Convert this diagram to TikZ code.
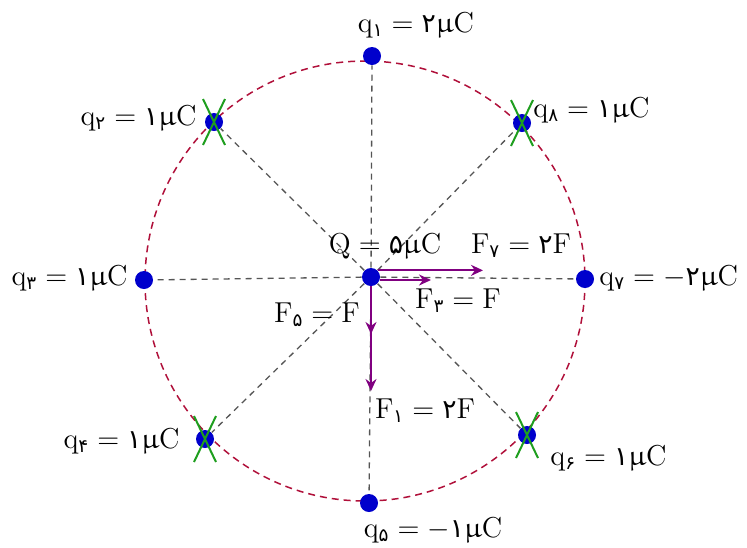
\documentclass[tikz,border=0pt]{standalone}
\usepackage{amsmath,amssymb}
\usepackage{upgreek}
\usepackage{fontspec}
\usepackage{tikz}
\usetikzlibrary{arrows.meta,positioning}
\newfontfamily\farsifont[Script=Arabic,Scale=0.92]{DejaVu Sans}
\newcommand{\fa}[1]{\text{\farsifont #1}}
\definecolor{ringred}{HTML}{B0103A}
\definecolor{chargeblue}{HTML}{0000CC}
\definecolor{forcepurple}{HTML}{800080}
\definecolor{crossgreen}{HTML}{1E9E1E}
\definecolor{guidegray}{HTML}{555555}
\tikzset{
  charge/.style={circle,fill=chargeblue,minimum size=9pt,inner sep=0pt},
  guide/.style={guidegray,line width=0.65pt,dash pattern=on 3pt off 2.5pt},
  ring/.style={ringred,line width=0.75pt,dash pattern=on 3.5pt off 2.5pt},
  force/.style={-{Stealth[length=6pt,width=5.5pt]},forcepurple,line width=0.9pt},
  cancel/.style={crossgreen,line width=1pt},
  qlabel/.style={font=\Large,inner sep=0pt}
}

\begin{document}
\begin{tikzpicture}[x=0.5pt,y=-0.5pt]
  \useasboundingbox (0,0) rectangle (747,547);
  \draw[ring] (365,281) circle[radius=220];

  \node[charge] (Q) at (371,277) {};
  \node[charge] (q1) at (372,56) {};
  \node[charge] (q2) at (214,122) {};
  \node[charge] (q3) at (144,280) {};
  \node[charge] (q4) at (205,439) {};
  \node[charge] (q5) at (369,503) {};
  \node[charge] (q6) at (527,435) {};
  \node[charge] (q7) at (585,279) {};
  \node[charge] (q8) at (522,123) {};

  \foreach \k in {1,...,8}
    \draw[guide] (Q) -- (q\k);

  % removed charges
  \foreach \k in {2,4,6,8} {
    \draw[cancel] ([shift={(-11,-23)}]q\k.center) -- ([shift={(11,23)}]q\k.center);
    \draw[cancel] ([shift={(11,-23)}]q\k.center) -- ([shift={(-11,23)}]q\k.center);
  }

  % forces on Q
  \coordinate (F7tip) at (483,270);
  \coordinate (F3tip) at (431,280);
  \coordinate (F5tip) at (371,334);
  \coordinate (F1tip) at (371,391);
  \draw[force] (Q.north east) -- (Q.north east -| F7tip);
  \draw[force] (Q.east |- F3tip) -- (F3tip);
  \draw[force] (Q.south) -- (F1tip);
  \draw[force] (Q.south) -- (F5tip);

  % labels
  \node[qlabel,anchor=base] (q1lab) at (416,32) {$\mathrm{q}_{\fa{۱}} = \fa{۲}\upmu\mathrm{C}$};
  \node[qlabel,anchor=base east] (q2lab) at (197,125) {$\mathrm{q}_{\fa{۲}} = \fa{۱}\upmu\mathrm{C}$};
  \node[qlabel,anchor=base east] (q3lab) at (128,285) {$\mathrm{q}_{\fa{۳}} = \fa{۱}\upmu\mathrm{C}$};
  \node[qlabel,anchor=base east] (q4lab) at (180,448) {$\mathrm{q}_{\fa{۴}} = \fa{۱}\upmu\mathrm{C}$};
  \node[qlabel,anchor=base] (q5lab) at (433,537) {$\mathrm{q}_{\fa{۵}} = -\fa{۱}\upmu\mathrm{C}$};
  \node[qlabel,anchor=base west] (q6lab) at (550,465) {$\mathrm{q}_{\fa{۶}} = \fa{۱}\upmu\mathrm{C}$};
  \node[qlabel,anchor=base west] (q7lab) at (599,285) {$\mathrm{q}_{\fa{۷}} = -\fa{۲}\upmu\mathrm{C}$};
  \node[qlabel,anchor=base west] (q8lab) at (533,117) {$\mathrm{q}_{\fa{۸}} = \fa{۱}\upmu\mathrm{C}$};
  \node[qlabel,anchor=base] (Qlab) at (385,253) {$\mathrm{Q} = \fa{۵}\upmu\mathrm{C}$};
  \node[qlabel,anchor=base] (F7lab) at (521,253) {$\mathrm{F}_{\fa{۷}} = \fa{۲}\mathrm{F}$};
  \node[qlabel,anchor=base] (F3lab) at (458,308) {$\mathrm{F}_{\fa{۳}} = \mathrm{F}$};
  \node[qlabel,anchor=base] (F5lab) at (317,322) {$\mathrm{F}_{\fa{۵}} = \mathrm{F}$};
  \node[qlabel,anchor=base] (F1lab) at (425,418) {$\mathrm{F}_{\fa{۱}} = \fa{۲}\mathrm{F}$};
\end{tikzpicture}
\end{document}
